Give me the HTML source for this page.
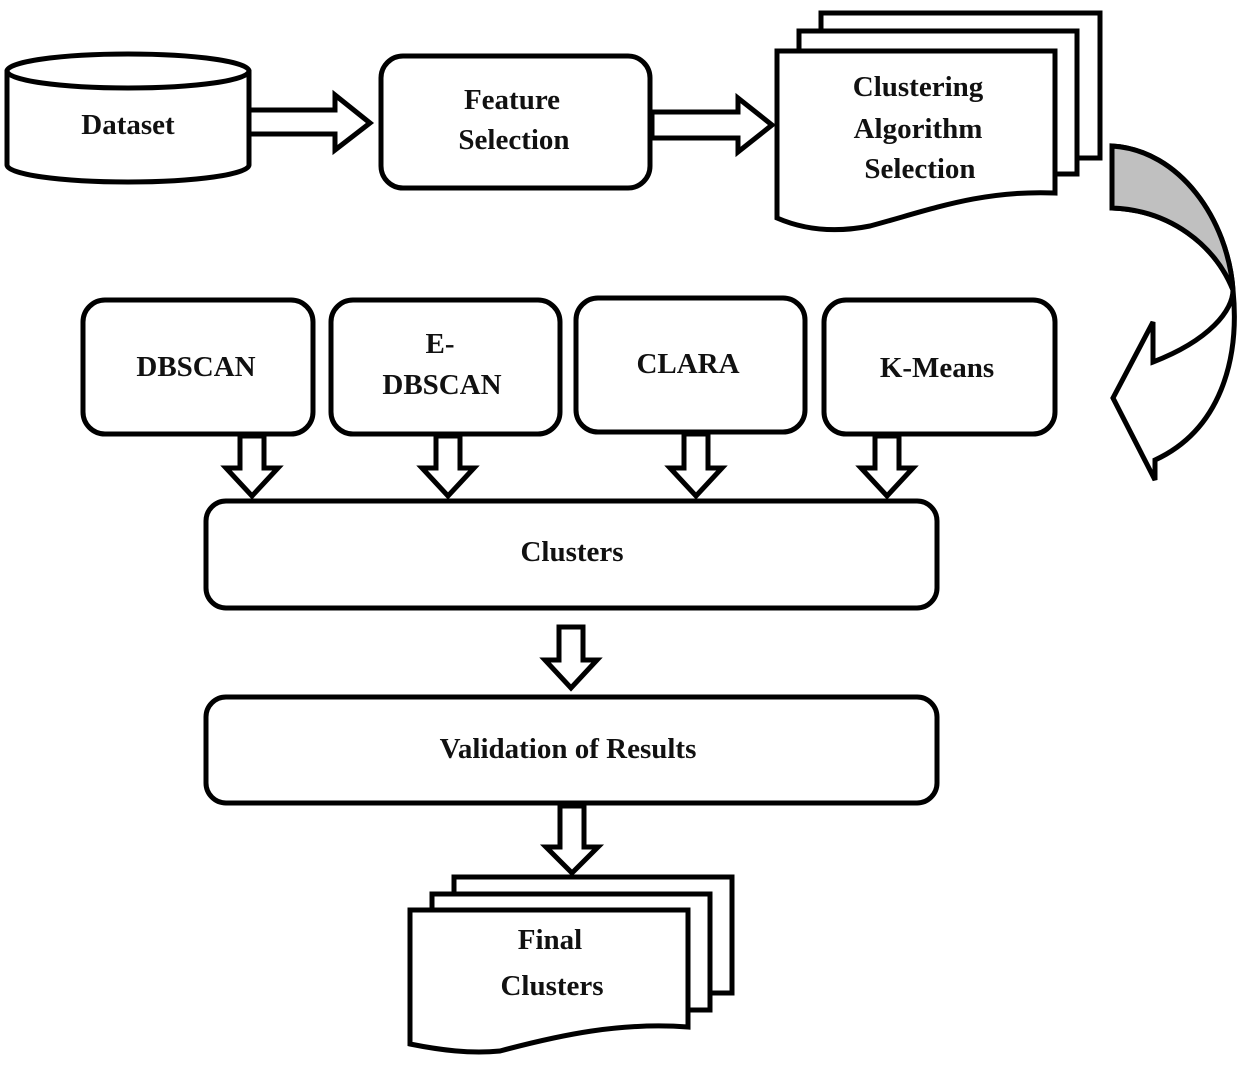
<!DOCTYPE html>
<html><head><style>
html,body{margin:0;padding:0;background:#fff;}
svg{display:block}
text{font-family:"Liberation Serif",serif;font-weight:bold;font-size:29px;fill:#111;text-anchor:middle}
</style></head><body>
<svg width="1250" height="1067" viewBox="0 0 1250 1067" xmlns="http://www.w3.org/2000/svg">
<g fill="#fff" stroke="#000" stroke-width="5" stroke-linejoin="miter">
<path d="M7,70 L7,165 A121,17 0 0 0 249,165 L249,70"/>
<ellipse cx="128" cy="71" rx="121" ry="17"/>
<path d="M249,110 L335,110 L335,95 L370,123 L335,150 L335,134 L249,134 Z"/>
<rect x="381" y="56" width="269" height="132" rx="22"/>
<path d="M652,112 L738,112 L738,98 L772,125 L738,152 L738,138 L652,138 Z"/>
<rect x="821" y="13" width="279" height="145"/>
<rect x="799" y="31" width="278" height="143"/>
<path d="M777,51 L1055,51 L1055,193 C980,190 930,210 870,226 C830,234 800,228 777,218 Z"/>
<path d="M1112,146 C1180,150 1228,220 1233,290 C1240,360 1220,430 1155,460 L1155,480 L1113,398 L1153,322 L1153,362 C1210,340 1233,310 1233,290 C1215,245 1170,210 1112,208 Z"/>
<path d="M1112,146 C1180,150 1228,220 1233,290 C1215,245 1170,210 1112,208 Z" fill="#c0c0c0"/>
<rect x="83" y="300" width="230" height="134" rx="22"/>
<rect x="331" y="300" width="229" height="134" rx="22"/>
<rect x="576" y="298" width="229" height="134" rx="22"/>
<rect x="824" y="300" width="231" height="134" rx="22"/>
<path d="M240,436 L240,468 L226,468 L252,496 L278,468 L264,468 L264,436 Z"/>
<path d="M436,436 L436,468 L422,468 L448,496 L474,468 L460,468 L460,436 Z"/>
<path d="M684,434 L684,468 L670,468 L696,496 L722,468 L708,468 L708,434 Z"/>
<path d="M875,436 L875,468 L861,468 L887,496 L913,468 L899,468 L899,436 Z"/>
<rect x="206" y="501" width="731" height="107" rx="20"/>
<path d="M559,627 L559,660 L545,660 L571,688 L597,660 L583,660 L583,627 Z"/>
<rect x="206" y="697" width="731" height="106" rx="20"/>
<path d="M560,806 L560,847 L546,847 L572,873 L598,847 L584,847 L584,806 Z"/>
<rect x="454" y="877" width="278" height="116"/>
<rect x="432" y="894" width="278" height="116"/>
<path d="M410,910 L688,910 L688,1027 C620,1022 560,1035 500,1051 C470,1054 440,1050 410,1044 Z"/>
</g>
<text x="128" y="134">Dataset</text>
<text x="512" y="109">Feature</text>
<text x="514" y="149">Selection</text>
<text x="918" y="96">Clustering</text>
<text x="918" y="138">Algorithm</text>
<text x="920" y="178">Selection</text>
<text x="196" y="376">DBSCAN</text>
<text x="440" y="353">E-</text>
<text x="442" y="394">DBSCAN</text>
<text x="688" y="373">CLARA</text>
<text x="937" y="377">K-Means</text>
<text x="572" y="561">Clusters</text>
<text x="568" y="758">Validation of Results</text>
<text x="550" y="949">Final</text>
<text x="552" y="995">Clusters</text>
</svg>
</body></html>
